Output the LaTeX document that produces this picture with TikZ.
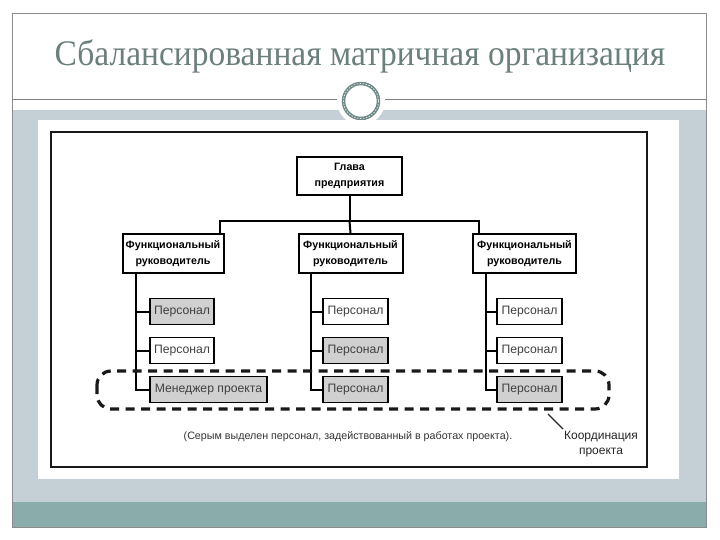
\documentclass[tikz,border=0pt]{standalone}
\usepackage{graphicx}
\usepackage{fontspec}
\setmainfont{Liberation Sans}
\newfontfamily\titlefont{Liberation Serif}
\usetikzlibrary{calc}
\definecolor{slidebg}{HTML}{C5D0D6}
\definecolor{bandteal}{HTML}{8AACAB}
\definecolor{titlecol}{HTML}{6B7F7D}
\definecolor{ringcol}{HTML}{6E8886}
\definecolor{staffgray}{HTML}{D0D0D0}
\tikzset{
  hdr/.style={draw=black, line width=2pt, fill=white, align=center, inner sep=0pt,
    font=\fontsize{10.7}{16}\selectfont\bfseries},
  staff/.style={draw=black, line width=1.8pt, fill=white, inner sep=0pt,
    minimum height=26pt, font=\fontsize{12.2}{14}\selectfont, text=black!75},
  busy/.style={staff, fill=staffgray},
  conn/.style={line width=2pt, black},
}
\begin{document}
\begin{tikzpicture}[x=1pt,y=-1pt]
\useasboundingbox (0,0) rectangle (720,540);
% slide
\fill[white] (0,0) rectangle (720,540);
\fill[slidebg] (12,110) rectangle (706,502);
\fill[bandteal] (12,502) rectangle (706,527);
\draw[black!45, line width=0.8pt] (12,13) rectangle (706,527);
\draw[black!50, line width=1pt] (12,100) -- (706,100);
\node[font=\titlefont\fontsize{36}{40}\selectfont, text=titlecol] (title) at (360,56) {\scalebox{0.93}[1]{Сбалансированная матричная организация}};
% ornament
\fill[white] (361,101) circle (24);
\draw[ringcol, line width=3.5pt] (361,101) circle (17.5);
\draw[white!80!ringcol, line width=0.8pt, dash pattern=on 1.5pt off 1.5pt] (361,101) circle (17.5);
% picture area
\fill[white] (38,120) rectangle (679,479);
\draw[black!90, line width=2.5pt] (51,132) rectangle (647,467);
% nodes
\node[hdr, minimum width=105pt, minimum height=38pt] (head) at (349.5,176) {Глава\\предприятия};
\node[hdr, minimum width=101pt, minimum height=39pt] (fr1) at (173,253.5) {Функциональный\\руководитель};
\node[hdr, minimum width=104pt, minimum height=39pt] (fr2) at (350.5,253.5) {Функциональный\\руководитель};
\node[hdr, minimum width=103pt, minimum height=39pt] (fr3) at (524.5,253.5) {Функциональный\\руководитель};
\node[busy, minimum width=64pt] (p11) at (182,311.5) {Персонал};
\node[staff, minimum width=64pt] (p12) at (182,350.5) {Персонал};
\node[busy, minimum width=117pt] (mgr) at (208.5,389.5) {Менеджер проекта};
\node[staff, minimum width=65pt] (p21) at (355.5,311.5) {Персонал};
\node[busy, minimum width=65pt] (p22) at (355.5,350.5) {Персонал};
\node[busy, minimum width=65pt] (p23) at (355.5,389.5) {Персонал};
\node[staff, minimum width=65pt] (p31) at (529.5,311.5) {Персонал};
\node[staff, minimum width=65pt] (p32) at (529.5,350.5) {Персонал};
\node[busy, minimum width=65pt] (p33) at (529.5,389.5) {Персонал};
% connectors top
\coordinate (busl) at (220,221);
\coordinate (busr) at (479,221);
\draw[conn] (head.south) -- (head.south |- busl);
\draw[conn] (fr1.north -| busl) |- (busr) -- (fr3.north -| busr);
\draw[conn] (head.south |- busl) -- (fr2.north);
% columns
\coordinate (s1) at (136,273);
\coordinate (s2) at (311,273);
\coordinate (s3) at (486,273);
\draw[conn] (s1) |- (mgr.west);
\draw[conn] (s1 |- p11.west) -- (p11.west);
\draw[conn] (s1 |- p12.west) -- (p12.west);
\draw[conn] (s2) |- (p23.west);
\draw[conn] (s2 |- p21.west) -- (p21.west);
\draw[conn] (s2 |- p22.west) -- (p22.west);
\draw[conn] (s3) |- (p33.west);
\draw[conn] (s3 |- p31.west) -- (p31.west);
\draw[conn] (s3 |- p32.west) -- (p32.west);
% coordination
\draw[black!90, line width=3.2pt, dash pattern=on 9pt off 6.5pt, rounded corners=14pt] (97,371) rectangle (609,409);
\node[font=\fontsize{10.7}{12}\selectfont, text=black!80] (cap) at (348,437) {(Серым выделен персонал, задействованный в работах проекта).};
\node[font=\fontsize{12}{15}\selectfont, text=black!85, align=center] (coord) at (601,444) {Координация\\проекта};
\coordinate (tip) at (548,414);
\draw[line width=1.2pt, black!85] (tip) -- (563,429);
\end{tikzpicture}
\end{document}
